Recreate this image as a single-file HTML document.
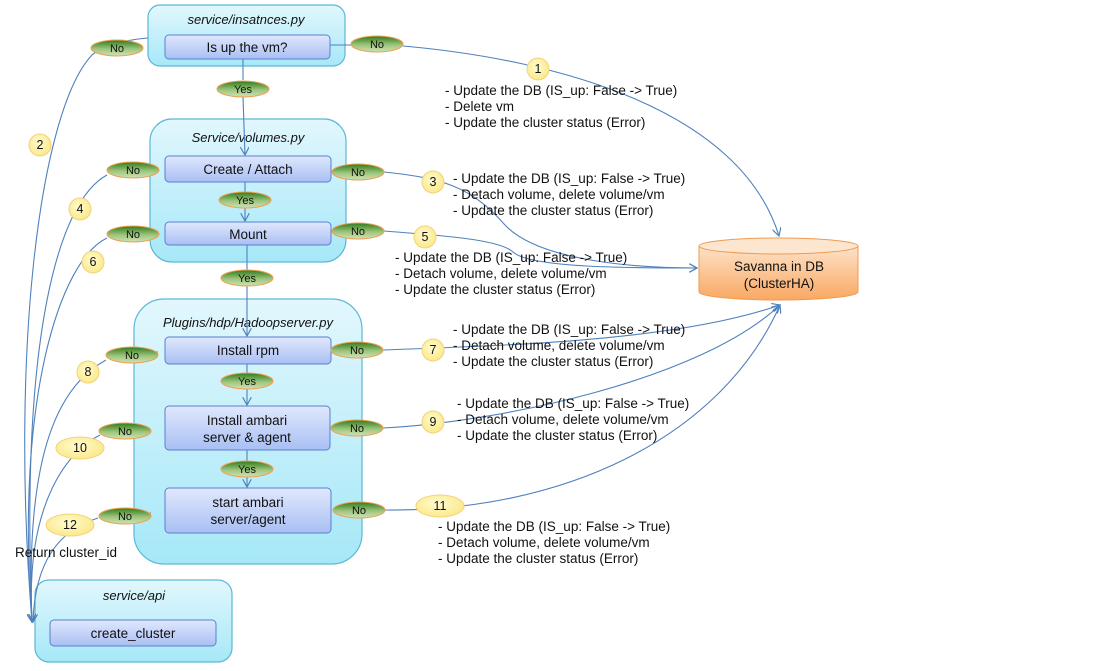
<!DOCTYPE html>
<html><head><meta charset="utf-8"><style>
html,body{margin:0;padding:0;background:#fff;}
svg{display:block;font-family:"Liberation Sans","Noto Sans CJK KR",sans-serif;}
</style></head><body>
<svg width="1102" height="671" viewBox="0 0 1102 671" xmlns="http://www.w3.org/2000/svg">
<defs>
<linearGradient id="cont" x1="0" y1="0" x2="0" y2="1"><stop offset="0" stop-color="#e2f7fd"/><stop offset="1" stop-color="#a6e8f8"/></linearGradient>
<linearGradient id="box" x1="0" y1="0" x2="0" y2="1"><stop offset="0" stop-color="#e0e8fd"/><stop offset="1" stop-color="#a9bff3"/></linearGradient>
<linearGradient id="grn" x1="0" y1="0" x2="0" y2="1"><stop offset="0" stop-color="#2f7a1e"/><stop offset="0.55" stop-color="#9cc47a"/><stop offset="1" stop-color="#cfe3b8"/></linearGradient>
<radialGradient id="yel" cx="0.45" cy="0.4" r="0.6"><stop offset="0" stop-color="#fffbd0"/><stop offset="1" stop-color="#fbe98a"/></radialGradient>
<linearGradient id="cyl" x1="0" y1="0" x2="0" y2="1"><stop offset="0" stop-color="#fde2c8"/><stop offset="1" stop-color="#f9a862"/></linearGradient>
<marker id="ar" viewBox="0 0 10 10" refX="9" refY="5" markerWidth="9" markerHeight="9" orient="auto" markerUnits="userSpaceOnUse"><path d="M0,0 L9,5 L0,10" fill="none" stroke="#4f81bd" stroke-width="1.3"/></marker>
</defs>

<g stroke="#5bb8d6" stroke-width="1.2" fill="url(#cont)">
<rect x="148" y="5" width="197" height="61" rx="12"/>
<rect x="150" y="119" width="196" height="143" rx="22"/>
<rect x="134" y="299" width="228" height="265" rx="30"/>
<rect x="35" y="580" width="197" height="82" rx="14"/>
</g>
<g font-style="italic" font-size="13" text-anchor="middle" fill="#111">
<text x="246" y="24">service/insatnces.py</text>
<text x="248" y="142">Service/volumes.py</text>
<text x="248" y="327">Plugins/hdp/Hadoopserver.py</text>
<text x="134" y="600">service/api</text>
</g>

<g fill="none" stroke="#4f81bd" stroke-width="1.1">
<path d="M243,59 L243,80"/>
<path d="M243,97 L245,155" marker-end="url(#ar)"/>
<path d="M245,182 L245,192"/>
<path d="M245,208 L245,221" marker-end="url(#ar)"/>
<path d="M247,245 L247,270"/>
<path d="M247,286 L247,336" marker-end="url(#ar)"/>
<path d="M247,364 L247,373"/>
<path d="M247,389 L247,405" marker-end="url(#ar)"/>
<path d="M247,450 L247,461"/>
<path d="M247,477 L247,487" marker-end="url(#ar)"/>
<path d="M330,45 L351,45"/>
<path d="M403,46 C560,60 740,110 779,236" marker-end="url(#ar)"/>
<path d="M384,172 C440,178 470,185 505,225 C540,262 640,268 697,268" marker-end="url(#ar)"/>
<path d="M384,231 C450,236 500,240 513,252 C530,268 630,268 697,268" marker-end="url(#ar)"/>
<path d="M383,350 C520,345 680,340 780,305" marker-end="url(#ar)"/>
<path d="M383,428 C500,422 700,380 780,305" marker-end="url(#ar)"/>
<path d="M385,510 C560,512 720,440 780,305" marker-end="url(#ar)"/>
<path d="M148,38 C120,40 100,48 92,55 C40,110 10,350 32,622" marker-end="url(#ar)"/>
<path d="M150,170 L159,170"/>
<path d="M107,175 C60,200 20,330 32,622" marker-end="url(#ar)"/>
<path d="M150,234 L159,234"/>
<path d="M107,238 C60,260 15,400 32,622" marker-end="url(#ar)"/>
<path d="M150,352 L158,352"/>
<path d="M106,360 C60,385 25,450 32,622" marker-end="url(#ar)"/>
<path d="M150,430 L151,430"/>
<path d="M100,435 C70,450 25,500 32,622" marker-end="url(#ar)"/>
<path d="M150,513 L151,513"/>
<path d="M98,518 C60,530 35,560 33,622" marker-end="url(#ar)"/>
</g>

<g stroke="#5a7fd0" stroke-width="1" fill="url(#box)">
<rect x="165" y="35" width="165" height="24" rx="4"/>
<rect x="165" y="156" width="166" height="26" rx="4"/>
<rect x="165" y="222" width="166" height="23" rx="4"/>
<rect x="165" y="337" width="166" height="27" rx="4"/>
<rect x="165" y="406" width="165" height="44" rx="4"/>
<rect x="165" y="488" width="166" height="45" rx="4"/>
<rect x="50" y="620" width="166" height="26" rx="4"/>
</g>
<g font-size="13.5" text-anchor="middle" fill="#111">
<text x="247" y="52">Is up the vm?</text>
<text x="248" y="174">Create / Attach</text>
<text x="248" y="239">Mount</text>
<text x="248" y="355">Install rpm</text>
<text x="247" y="425">Install ambari</text>
<text x="247" y="442">server &amp; agent</text>
<text x="248" y="507">start ambari</text>
<text x="248" y="524">server/agent</text>
<text x="133" y="638">create_cluster</text>
</g>

<g stroke="#f0a050" stroke-width="1" fill="url(#grn)">
<ellipse cx="243" cy="89" rx="26" ry="8"/>
<ellipse cx="245" cy="200" rx="26" ry="8"/>
<ellipse cx="247" cy="278" rx="26" ry="8"/>
<ellipse cx="247" cy="381" rx="26" ry="8"/>
<ellipse cx="247" cy="469" rx="26" ry="8"/>
<ellipse cx="117" cy="48" rx="26" ry="8"/>
<ellipse cx="377" cy="44" rx="26" ry="8"/>
<ellipse cx="133" cy="170" rx="26" ry="8"/>
<ellipse cx="358" cy="172" rx="26" ry="8"/>
<ellipse cx="133" cy="234" rx="26" ry="8"/>
<ellipse cx="358" cy="231" rx="26" ry="8"/>
<ellipse cx="132" cy="355" rx="26" ry="8"/>
<ellipse cx="357" cy="350" rx="26" ry="8"/>
<ellipse cx="125" cy="431" rx="26" ry="8"/>
<ellipse cx="357" cy="428" rx="26" ry="8"/>
<ellipse cx="125" cy="516" rx="26" ry="8"/>
<ellipse cx="359" cy="510" rx="26" ry="8"/>
</g>
<g font-size="11" text-anchor="middle" fill="#111">
<text x="243" y="93">Yes</text>
<text x="245" y="204">Yes</text>
<text x="247" y="282">Yes</text>
<text x="247" y="385">Yes</text>
<text x="247" y="473">Yes</text>
<text x="117" y="52">No</text>
<text x="377" y="48">No</text>
<text x="133" y="174">No</text>
<text x="358" y="176">No</text>
<text x="133" y="238">No</text>
<text x="358" y="235">No</text>
<text x="132" y="359">No</text>
<text x="357" y="354">No</text>
<text x="125" y="435">No</text>
<text x="357" y="432">No</text>
<text x="125" y="520">No</text>
<text x="359" y="514">No</text>
</g>

<g stroke="#f3d27a" stroke-width="1" fill="url(#yel)">
<circle cx="538" cy="69" r="11"/>
<circle cx="40" cy="145" r="11"/>
<circle cx="433" cy="182" r="11"/>
<circle cx="80" cy="209" r="11"/>
<circle cx="425" cy="237" r="11"/>
<circle cx="93" cy="262" r="11"/>
<circle cx="433" cy="350" r="11"/>
<circle cx="88" cy="372" r="11"/>
<circle cx="433" cy="422" r="11"/>
<ellipse cx="80" cy="448" rx="24" ry="11"/>
<ellipse cx="440" cy="506" rx="24" ry="11"/>
<ellipse cx="70" cy="525" rx="24" ry="11"/>
</g>
<g font-size="12.5" text-anchor="middle" fill="#111">
<text x="538" y="73">1</text>
<text x="40" y="149">2</text>
<text x="433" y="186">3</text>
<text x="80" y="213">4</text>
<text x="425" y="241">5</text>
<text x="93" y="266">6</text>
<text x="433" y="354">7</text>
<text x="88" y="376">8</text>
<text x="433" y="426">9</text>
<text x="80" y="452">10</text>
<text x="440" y="510">11</text>
<text x="70" y="529">12</text>
</g>

<path d="M699,246 L699,292 A79.5,8 0 0 0 858,292 L858,246" fill="url(#cyl)" stroke="#f09a50" stroke-width="1"/>
<ellipse cx="778.5" cy="246" rx="79.5" ry="8" fill="#fde6d0" stroke="#f09a50" stroke-width="1"/>
<g font-size="13.5" text-anchor="middle" fill="#111">
<text x="779" y="271">Savanna in DB</text>
<text x="779" y="288">(ClusterHA)</text>
</g>

<g font-size="13.5" fill="#111">
<text x="445" y="95">- Update the DB (IS_up: False -&gt; True)</text>
<text x="445" y="111">- Delete vm</text>
<text x="445" y="127">- Update the cluster status (Error)</text>
<text x="453" y="183">- Update the DB (IS_up: False -&gt; True)</text>
<text x="453" y="199">- Detach volume, delete volume/vm</text>
<text x="453" y="215">- Update the cluster status (Error)</text>
<text x="395" y="262">- Update the DB (IS_up: False -&gt; True)</text>
<text x="395" y="278">- Detach volume, delete volume/vm</text>
<text x="395" y="294">- Update the cluster status (Error)</text>
<text x="453" y="334">- Update the DB (IS_up: False -&gt; True)</text>
<text x="453" y="350">- Detach volume, delete volume/vm</text>
<text x="453" y="366">- Update the cluster status (Error)</text>
<text x="457" y="408">- Update the DB (IS_up: False -&gt; True)</text>
<text x="457" y="424">- Detach volume, delete volume/vm</text>
<text x="457" y="440">- Update the cluster status (Error)</text>
<text x="438" y="531">- Update the DB (IS_up: False -&gt; True)</text>
<text x="438" y="547">- Detach volume, delete volume/vm</text>
<text x="438" y="563">- Update the cluster status (Error)</text>
<text x="15" y="557">Return cluster_id</text>
</g>
</svg>
</body></html>
